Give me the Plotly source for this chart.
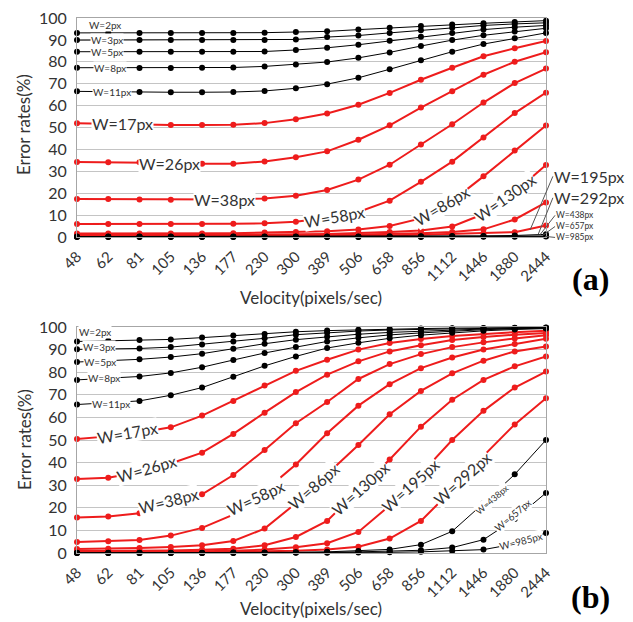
import plotly.graph_objects as go

velocity = ["48", "62", "81", "105", "136", "177", "230", "300", "389", "506",
            "658", "856", "1112", "1446", "1880", "2444"]
y_ticks = [0, 10, 20, 30, 40, 50, 60, 70, 80, 90, 100]

# ---- panel (a) ----
a_w2 = [93.2, 93.2, 93.2, 93.2, 93.2, 93.2, 93.3, 93.6, 93.9, 94.7, 95.5, 96.3, 97.0, 97.6, 98.2, 98.8]
a_w3 = [89.9, 89.9, 89.9, 89.9, 89.9, 90.0, 90.0, 90.2, 91.3, 92.0, 93.2, 94.4, 95.5, 96.6, 97.3, 97.8]
a_w5 = [84.6, 84.6, 84.6, 84.6, 84.6, 84.6, 84.7, 85.4, 86.4, 87.8, 89.6, 91.4, 93.2, 94.7, 95.8, 96.6]
a_w8 = [77.3, 77.3, 77.2, 77.2, 77.3, 77.4, 77.9, 78.8, 79.9, 81.8, 84.3, 87.2, 89.9, 92.1, 93.8, 95.3]
a_w11 = [66.5, 66.3, 66.2, 66.1, 66.1, 66.2, 66.7, 67.9, 69.8, 72.7, 76.6, 80.7, 84.6, 88.1, 90.7, 93.2]
a_w17 = [51.9, 51.6, 51.3, 51.1, 51.1, 51.2, 52.0, 53.8, 56.4, 60.4, 65.8, 71.8, 77.3, 82.5, 86.2, 89.5]
a_w26 = [34.2, 34.1, 34.1, 33.8, 33.5, 33.5, 34.5, 36.4, 39.1, 44.4, 51.0, 59.1, 66.6, 74.1, 80.0, 84.4]
a_w38 = [17.3, 17.3, 17.1, 17.0, 17.0, 17.1, 17.6, 18.8, 21.5, 26.2, 33.0, 42.2, 51.5, 61.4, 70.3, 76.9]
a_w58 = [5.9, 5.9, 5.9, 5.9, 5.9, 6.0, 6.3, 7.0, 8.8, 11.4, 16.6, 25.2, 34.4, 45.4, 56.6, 65.9]
a_w86 = [1.6, 1.6, 1.6, 1.6, 1.6, 1.7, 2.0, 2.3, 2.6, 3.4, 5.0, 8.5, 16.5, 27.7, 39.5, 50.9]
a_w130 = [1.0, 1.0, 1.0, 1.0, 1.0, 1.0, 1.1, 1.2, 1.4, 1.8, 2.3, 3.0, 4.8, 10.5, 20.5, 32.9]
a_w195 = [0.7, 0.7, 0.7, 0.7, 0.7, 0.7, 0.8, 0.8, 0.9, 1.1, 1.3, 1.7, 2.3, 3.5, 8.0, 15.8]
a_w292 = [0.5, 0.5, 0.5, 0.5, 0.5, 0.5, 0.5, 0.6, 0.6, 0.7, 0.8, 1.0, 1.3, 1.7, 2.2, 5.3]
a_w438 = [0.2, 0.2, 0.2, 0.2, 0.2, 0.2, 0.2, 0.2, 0.2, 0.2, 0.3, 0.3, 0.4, 0.5, 0.7, 1.2]
a_w657 = [0.1, 0.1, 0.1, 0.1, 0.1, 0.1, 0.1, 0.1, 0.1, 0.1, 0.1, 0.2, 0.2, 0.3, 0.4, 0.5]
a_w985 = [0.0, 0.0, 0.0, 0.0, 0.0, 0.0, 0.0, 0.0, 0.0, 0.0, 0.0, 0.0, 0.1, 0.1, 0.1, 0.2]

# ---- panel (b) ----
b_w2 = [93.6, 93.9, 94.2, 94.5, 95.3, 96.2, 96.9, 97.9, 98.4, 98.8, 99.1, 99.3, 99.5, 99.6, 99.7, 99.8]
b_w3 = [90.1, 90.3, 90.5, 91.1, 92.3, 93.6, 95.0, 96.6, 97.5, 98.2, 98.7, 99.0, 99.3, 99.5, 99.6, 99.7]
b_w5 = [84.5, 85.0, 85.7, 86.7, 88.2, 90.4, 92.6, 94.4, 95.7, 96.8, 97.6, 98.2, 98.7, 99.1, 99.4, 99.6]
b_w8 = [76.6, 77.3, 78.1, 79.7, 82.2, 85.4, 88.5, 91.1, 93.6, 95.2, 96.5, 97.4, 98.2, 98.8, 99.2, 99.5]
b_w11 = [65.7, 66.5, 67.3, 69.8, 73.2, 78.0, 82.8, 87.0, 90.7, 93.0, 95.0, 96.4, 97.5, 98.3, 98.9, 99.3]
b_w17 = [50.4, 51.6, 53.3, 55.6, 60.8, 67.3, 74.1, 80.6, 85.5, 90.0, 92.9, 94.7, 96.0, 97.0, 97.7, 98.3]
b_w26 = [32.7, 33.3, 35.8, 39.6, 44.4, 52.7, 62.1, 71.2, 78.9, 84.8, 89.2, 91.9, 94.2, 95.6, 96.6, 97.3]
b_w38 = [15.7, 16.1, 17.6, 21.2, 26.0, 34.5, 45.6, 57.4, 66.8, 77.0, 83.6, 88.0, 91.1, 93.2, 94.9, 96.3]
b_w58 = [4.9, 5.2, 5.8, 7.7, 11.1, 17.0, 27.5, 39.2, 53.0, 65.2, 74.7, 81.8, 86.5, 90.0, 92.5, 94.8]
b_w86 = [1.8, 1.9, 2.2, 2.7, 3.4, 5.3, 10.8, 22.0, 35.0, 47.8, 61.4, 71.7, 79.5, 85.1, 89.2, 91.4]
b_w130 = [0.9, 0.9, 1.0, 1.1, 1.4, 1.9, 3.4, 7.1, 14.2, 27.8, 41.4, 55.9, 67.8, 76.6, 82.6, 87.0]
b_w195 = [0.5, 0.5, 0.6, 0.7, 0.8, 1.0, 1.5, 2.5, 4.3, 9.3, 21.0, 35.0, 50.0, 62.9, 73.2, 80.3]
b_w292 = [0.3, 0.3, 0.3, 0.4, 0.5, 0.6, 0.8, 1.0, 1.6, 2.8, 6.4, 14.2, 28.0, 43.0, 56.9, 68.5]
b_w438 = [0.1, 0.1, 0.1, 0.1, 0.1, 0.2, 0.2, 0.3, 0.5, 0.9, 1.6, 3.7, 9.6, 22.0, 34.8, 50.0]
b_w657 = [0.0, 0.0, 0.0, 0.0, 0.0, 0.1, 0.1, 0.2, 0.3, 0.5, 0.8, 1.2, 2.4, 5.9, 15.0, 26.6]
b_w985 = [0.0, 0.0, 0.0, 0.0, 0.0, 0.0, 0.0, 0.1, 0.1, 0.2, 0.3, 0.5, 0.9, 1.5, 4.0, 8.9]

widths = ["2", "3", "5", "8", "11", "17", "26", "38", "58", "86", "130", "195", "292", "438", "657", "985"]
panel_a = [a_w2, a_w3, a_w5, a_w8, a_w11, a_w17, a_w26, a_w38, a_w58, a_w86, a_w130, a_w195, a_w292, a_w438, a_w657, a_w985]
panel_b = [b_w2, b_w3, b_w5, b_w8, b_w11, b_w17, b_w26, b_w38, b_w58, b_w86, b_w130, b_w195, b_w292, b_w438, b_w657, b_w985]
red_widths = {"17", "26", "38", "58", "86", "130", "195", "292"}

RED = "#ee1c1c"
FONT = "Lato"
TXT = "#333333"

# page layout (page pixels; the HTML body adds an 8px offset)
PAGE_OFF = 8
FIG_W, FIG_H = 625, 614
M_L, M_R, M_T, M_B = 69, 87, 10, 69
PLOT_LEFT = PAGE_OFF + M_L                    # 77
PLOT_BOTTOM = PAGE_OFF + FIG_H - M_B          # 553
PW = FIG_W - M_L - M_R                        # 469
PH = FIG_H - M_T - M_B                        # 535

def px_x(px):
    return (px - PLOT_LEFT) / PW

def px_y(py):
    return (PLOT_BOTTOM - py) / PH

fig = go.Figure()

for panel, (xa, ya) in ((panel_a, ("x", "y")), (panel_b, ("x2", "y2"))):
    for want_red in (True, False):
        for w, vals in zip(widths, panel):
            is_red = w in red_widths
            if is_red != want_red:
                continue
            fig.add_trace(go.Scatter(
                x=velocity, y=vals, xaxis=xa, yaxis=ya, mode="lines+markers",
                name="W=%spx" % w, showlegend=False, cliponaxis=False,
                line=dict(color=RED if is_red else "black", width=2 if is_red else 1),
                marker=dict(color=RED if is_red else "black", size=6),
            ))

axis_common = dict(
    showgrid=False, showline=True, linecolor="#a6a6a6", linewidth=1, mirror=True,
    zeroline=False, ticks="", tickangle=-45, range=[0, 15], type="category",
    tickfont=dict(family=FONT, size=15, color=TXT), ticklabelstandoff=4,
    automargin=False, ticklabeloverflow="allow",
)
yaxis_common = dict(
    range=[0, 100], tickvals=y_ticks, showgrid=True, gridcolor="#c4c4c4", gridwidth=1,
    showline=True, linecolor="#a6a6a6", linewidth=1, mirror=True, zeroline=False,
    ticks="", tickfont=dict(family=FONT, size=16, color=TXT), ticklabelstandoff=6,
    automargin=False, ticklabeloverflow="allow",
)

fig.update_layout(
    width=FIG_W, height=FIG_H, autosize=False,
    margin=dict(l=M_L, r=M_R, t=M_T, b=M_B),
    paper_bgcolor="white", plot_bgcolor="white",
    xaxis=dict(domain=[0, 1], anchor="y", **axis_common),
    yaxis=dict(domain=[px_y(237), 1], anchor="x", **yaxis_common),
    xaxis2=dict(domain=[0, 1], anchor="y2", **axis_common),
    yaxis2=dict(domain=[0, px_y(327)], anchor="x2", **yaxis_common),
)

ann = []

def lab(text, x, y, size, angle, xr, yr):
    ann.append(dict(text=text, x=x, y=y, xref=xr, yref=yr, showarrow=False,
                    textangle=angle, bgcolor="white", borderpad=0,
                    xanchor="center", yanchor="middle",
                    font=dict(family=FONT, size=size, color=TXT)))

# panel (a) labels
lab("W=2px", 0.9, 96.6, 10, 0, "x", "y")
lab("W=3px", 0.96, 89.9, 10, 0, "x", "y")
lab("W=5px", 0.96, 84.6, 10, 0, "x", "y")
lab("W=8px", 1.06, 77.3, 10, 0, "x", "y")
lab("W=11px", 1.12, 66.4, 10, 0, "x", "y")
lab("W=17px", 1.44, 51.7, 16, 0, "x", "y")
lab("W=26px", 2.97, 33.6, 16, 0, "x", "y")
lab("W=38px", 4.73, 17.1, 16, 0, "x", "y")
lab("W=58px", 8.25, 9.3, 16, -10, "x", "y")
lab("W=86px", 11.67, 14.4, 16, -31, "x", "y")
lab("W=130px", 13.69, 17.9, 16, -35, "x", "y")

def leader(text, tipx, tipy, tx, ty, size):
    ann.append(dict(text=text, x=tipx, y=tipy, xref="x", yref="y", axref="x", ayref="y",
                    ax=tx, ay=ty, showarrow=True, arrowhead=0, arrowwidth=1,
                    arrowcolor="#555555", xanchor="left", yanchor="middle",
                    bgcolor="white", borderpad=0,
                    font=dict(family=FONT, size=size, color=TXT)))

leader("W=195px", 14.49, 3.2, 15.22, 27.7, 16)
leader("W=292px", 14.75, 1.2, 15.22, 17.9, 16)
leader("W=438px", 14.8, 0.9, 15.29, 9.9, 8.5)
leader("W=657px", 14.9, 0.8, 15.29, 4.8, 8.5)
leader("W=985px", 14.97, 0.3, 15.29, -0.2, 8.5)

# panel (b) labels
lab("W=2px", 0.58, 97.9, 10, 0, "x2", "y2")
lab("W=3px", 0.70, 91.3, 10, 0, "x2", "y2")
lab("W=5px", 0.74, 84.6, 10, 0, "x2", "y2")
lab("W=8px", 0.86, 77.5, 10, 0, "x2", "y2")
lab("W=11px", 1.09, 66.0, 10, 0, "x2", "y2")
lab("W=17px", 1.63, 53.1, 16, -10, "x2", "y2")
lab("W=26px", 2.21, 37.6, 16, -16, "x2", "y2")
lab("W=38px", 2.94, 23.4, 16, -14, "x2", "y2")
lab("W=58px", 5.72, 24.7, 16, -25, "x2", "y2")
lab("W=86px", 7.55, 29.5, 16, -41, "x2", "y2")
lab("W=130px", 9.05, 28.7, 16, -42, "x2", "y2")
lab("W=195px", 10.65, 30.0, 16, -42, "x2", "y2")
lab("W=292px", 12.31, 33.1, 16, -42, "x2", "y2")
lab("W=438px", 13.27, 23.8, 9, -41, "x2", "y2")
lab("W=657px", 13.94, 16.7, 10, -40, "x2", "y2")
lab("W=985px", 14.2, 5.2, 10, -14, "x2", "y2")

def paper_text(text, px, py, size, family, color, angle=0):
    ann.append(dict(text=text, x=px_x(px), y=px_y(py), xref="paper", yref="paper",
                    showarrow=False, xanchor="center", yanchor="middle", textangle=angle,
                    font=dict(family=family, size=size, color=color)))

# axis titles & panel letters
for py in (125, 440):
    paper_text("Error rates(%)", 24, py, 17, FONT, TXT, -90)
for py in (297, 608):
    paper_text("Velocity(pixels/sec)", 311, py, 17, FONT, TXT)
for t, py in (("(a)", 279), ("(b)", 597)):
    paper_text("<b>%s</b>" % t, 590, py, 32, "Liberation Serif", "black")

fig.update_layout(annotations=ann)
fig.write_html("out.html")
